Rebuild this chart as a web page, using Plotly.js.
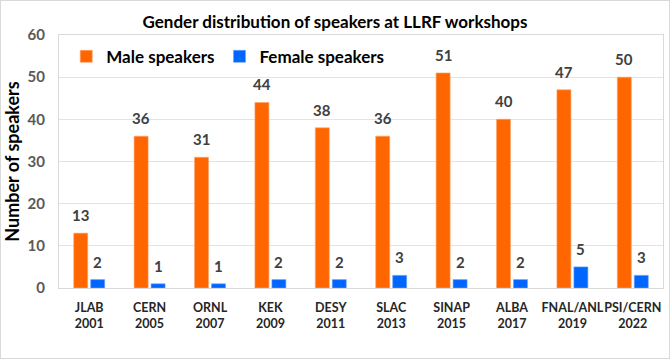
<!DOCTYPE html>
<html><head><meta charset="utf-8">
<script src="https://cdn.plot.ly/plotly-3.0.1.min.js"></script>
<style>html,body{margin:0;padding:0;background:#fff}#wrap{width:670px;height:359px;box-sizing:border-box;border:1px solid #d9d9d9}#chart{width:668px;height:357px}</style>
</head><body><div id="wrap"><div id="chart"></div></div>
<script>
const categories = ["JLAB<br>2001","CERN<br>2005","ORNL<br>2007","KEK<br>2009","DESY<br>2011","SLAC<br>2013","SINAP<br>2015","ALBA<br>2017","FNAL/ANL<br>2019","PSI/CERN<br>2022"];
const maleSpeakers = [13,36,31,44,38,36,51,40,47,50];
const femaleSpeakers = [2,1,1,2,2,3,2,2,5,3];
const yTicks = [0,10,20,30,40,50,60];

const FONT = "Lato, 'Open Sans', sans-serif";
const labelFont = {family: FONT, size: 15, color: '#404040', weight: 'bold'};

const traces = [
  {type:'bar', name:'Male speakers', x:categories, y:maleSpeakers,
   marker:{color:'#FF6600', line:{color:'#ffa366', width:0.6}}, hoverinfo:'skip'},
  {type:'bar', name:'Female speakers', x:categories, y:femaleSpeakers,
   marker:{color:'#0066FF', line:{color:'#66a3ff', width:0.6}}, hoverinfo:'skip'}
];

// value labels placed at each bar's top via the axes
const annotations = [];
[[maleSpeakers, -8.5], [femaleSpeakers, 8.5]].forEach(([vals, dx]) => {
  vals.forEach((v, i) => annotations.push({
    x: categories[i], y: v, xref:'x', yref:'y', text: '<b>' + v + '</b>', showarrow:false,
    xshift: dx, yshift: 7, yanchor:'bottom', xanchor:'center', font: labelFont
  }));
});

const layout = {
  width:668, height:357,
  margin:{l:57.5, r:6, t:34, b:70},
  paper_bgcolor:'#fff', plot_bgcolor:'#fff',
  font:{family:FONT, color:'#262626'},
  title:{text:'Gender distribution of speakers at LLRF workshops', x:0.5, xref:'container', y:0.94, yanchor:'middle',
         font:{family:FONT, size:17, weight:'bold', color:'#000'}},
  barmode:'group', bargap:0.438, bargroupgap:0.176,
  showlegend:true,
  legend:{orientation:'h', x:0.012, y:0.985, xanchor:'left', yanchor:'top',
          font:{family:FONT, size:17, weight:'bold', color:'#000'}, bgcolor:'rgba(0,0,0,0)', itemwidth:30, traceorder:'normal'},
  annotations: annotations,
  xaxis:{type:'category', showline:true, mirror:true, linecolor:'#d9d9d9', linewidth:1,
         showgrid:false, ticks:'', ticklabelstandoff:8, tickangle:0,
         tickfont:{family:FONT, size:12.5, weight:'bold', color:'#262626'}},
  yaxis:{range:[0,60], tickvals:yTicks, showline:true, mirror:true, linecolor:'#d9d9d9', linewidth:1,
         showgrid:true, gridcolor:'#e3e3e3', zeroline:false, ticks:'', ticklabelstandoff:10,
         tickfont:{family:FONT, size:15, weight:'bold', color:'#595959'},
         title:{text:'Number of speakers', standoff:8, font:{family:FONT, size:18, weight:'bold', color:'#000'}}}
};

Plotly.newPlot('chart', traces, layout, {displayModeBar:false, staticPlot:true});
</script></body></html>
